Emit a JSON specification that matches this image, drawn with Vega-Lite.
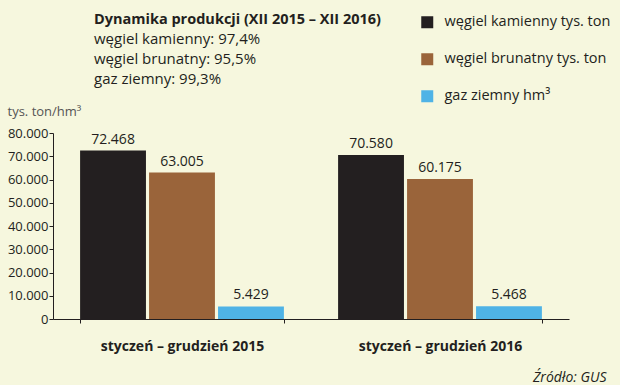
{
  "$schema": "https://vega.github.io/schema/vega-lite/v6.json",
  "width": 516,
  "height": 186,
  "autosize": {"type": "none"},
  "padding": {"left": 53, "top": 133, "right": 51, "bottom": 66},
  "background": "#f6f7de",
  "config": {
    "font": "Open Sans",
    "view": {"stroke": null},
    "locale": {"number": {"decimal": ",", "thousands": ".", "grouping": [3], "currency": ["", " zł"]}}
  },
  "title": {
    "text": "Dynamika produkcji (XII 2015 – XII 2016)",
    "subtitle": ["węgiel kamienny: 97,4%", "węgiel brunatny: 95,5%", "gaz ziemny: 99,3%"],
    "anchor": "start",
    "frame": "group",
    "dx": 41,
    "offset": -73,
    "font": "Open Sans",
    "fontSize": 14.5,
    "fontWeight": "bold",
    "color": "#231f20",
    "subtitleFont": "Open Sans",
    "subtitleFontSize": 15,
    "subtitleColor": "#231f20",
    "subtitleLineHeight": 20,
    "subtitlePadding": 5
  },
  "data": {
    "values": [
      {"okres": "styczeń – grudzień 2015", "seria": "węgiel kamienny tys. ton", "wartosc": 72468},
      {"okres": "styczeń – grudzień 2015", "seria": "węgiel brunatny tys. ton", "wartosc": 63005},
      {"okres": "styczeń – grudzień 2015", "seria": "gaz ziemny hm³", "wartosc": 5429},
      {"okres": "styczeń – grudzień 2016", "seria": "węgiel kamienny tys. ton", "wartosc": 70580},
      {"okres": "styczeń – grudzień 2016", "seria": "węgiel brunatny tys. ton", "wartosc": 60175},
      {"okres": "styczeń – grudzień 2016", "seria": "gaz ziemny hm³", "wartosc": 5468}
    ]
  },
  "encoding": {
    "x": {
      "field": "okres",
      "type": "nominal",
      "scale": {"paddingInner": 0.21, "paddingOuter": 0.105},
      "axis": {
        "title": "Źródło: GUS",
        "titleX": 553,
        "titleY": 58,
        "titleAlign": "right",
        "titleBaseline": "middle",
        "titleFont": "Open Sans",
        "titleFontSize": 14,
        "titleFontStyle": "italic",
        "titleFontWeight": "normal",
        "titleColor": "#231f20",
        "labelAngle": 0,
        "labelFont": "Open Sans",
        "labelFontSize": 14,
        "labelFontWeight": "bold",
        "labelColor": "#231f20",
        "labelPadding": 16,
        "tickBand": "extent",
        "tickSize": 4,
        "tickColor": "#231f20",
        "domainColor": "#231f20",
        "grid": false
      }
    },
    "xOffset": {
      "field": "seria",
      "type": "nominal",
      "sort": ["węgiel kamienny tys. ton", "węgiel brunatny tys. ton", "gaz ziemny hm³"],
      "scale": {"paddingInner": 0.045, "paddingOuter": 0}
    },
    "y": {
      "field": "wartosc",
      "type": "quantitative",
      "scale": {"domain": [0, 80000], "nice": false},
      "axis": {
        "title": "tys. ton/hm³",
        "titleAngle": 0,
        "titleX": -46,
        "titleY": -22,
        "titleAlign": "left",
        "titleBaseline": "middle",
        "titleFont": "Open Sans",
        "titleFontSize": 13,
        "titleFontWeight": "normal",
        "titleColor": "#555555",
        "values": [0, 10000, 20000, 30000, 40000, 50000, 60000, 70000, 80000],
        "format": ",d",
        "labelFont": "Open Sans",
        "labelFontSize": 13,
        "labelColor": "#231f20",
        "labelPadding": 1,
        "tickSize": 4,
        "tickColor": "#231f20",
        "domainColor": "#231f20",
        "grid": false
      }
    }
  },
  "layer": [
    {
      "mark": {"type": "bar"},
      "encoding": {
        "color": {
          "field": "seria",
          "type": "nominal",
          "scale": {
            "domain": ["węgiel kamienny tys. ton", "węgiel brunatny tys. ton", "gaz ziemny hm³"],
            "range": ["#231f20", "#9a643a", "#4fb3e6"]
          },
          "legend": {
            "title": null,
            "orient": "none",
            "legendX": 367,
            "legendY": -118,
            "padding": 0,
            "rowPadding": 22,
            "symbolType": "square",
            "symbolSize": 144,
            "symbolStrokeWidth": 0,
            "labelFont": "Open Sans",
            "labelFontSize": 14.5,
            "labelColor": "#231f20",
            "labelOffset": 10,
            "labelLimit": 300
          }
        }
      }
    },
    {
      "mark": {"type": "text", "baseline": "bottom", "dy": -4, "fontSize": 14, "font": "Open Sans", "color": "#231f20"},
      "encoding": {
        "text": {"field": "wartosc", "type": "quantitative", "format": ",d"}
      }
    }
  ]
}
